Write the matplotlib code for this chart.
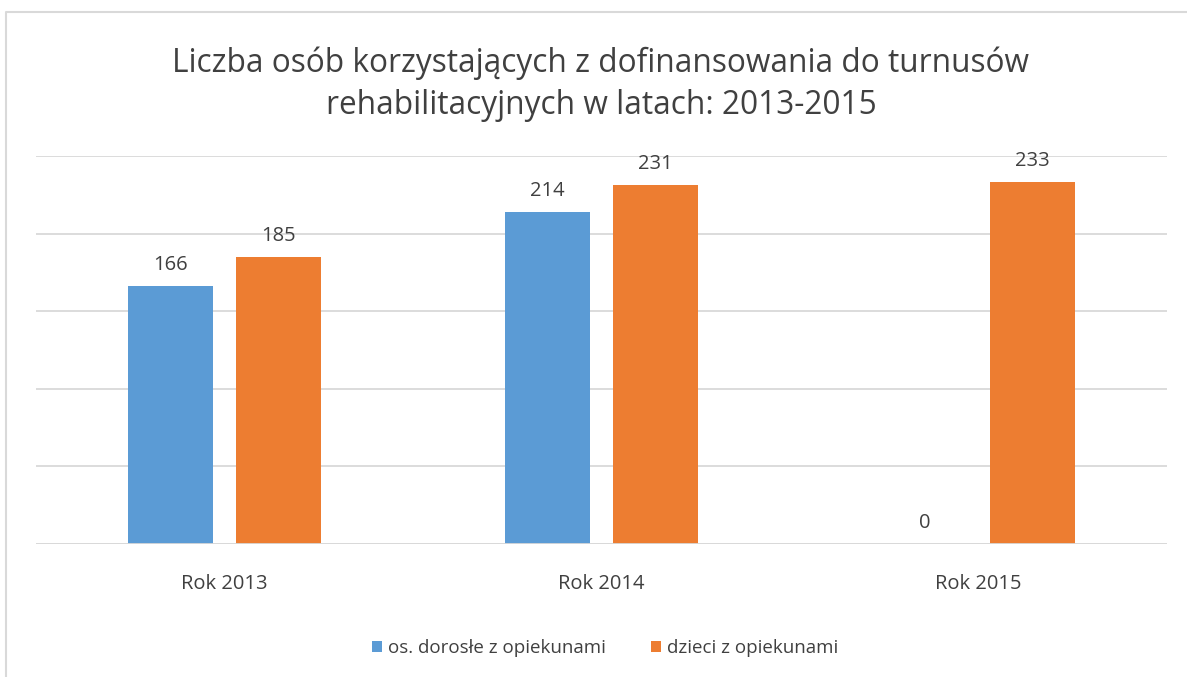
import matplotlib.pyplot as plt
import numpy as np

plt.rcParams['font.family'] = ['Open Sans', 'DejaVu Sans']

# dane z wykresu
lata = ["Rok 2013", "Rok 2014", "Rok 2015"]
dorosli = [166, 214, 0]
dzieci = [185, 231, 233]
serie = ["os. dorosłe z opiekunami", "dzieci z opiekunami"]
tytul = "Liczba osób korzystających z dofinansowania do turnusów\nrehabilitacyjnych w latach: 2013-2015"

kolor_nieb = "#5B9BD5"
kolor_pom = "#ED7D31"
kolor_tekst = "#404040"

W, H = 1187, 677
fig = plt.figure(figsize=(W / 100, H / 100), dpi=100)

# ramka wykresu (obcięta z prawej i z dołu)
ramka = fig.add_axes([0, 0, 1, 1])
ramka.set_xlim(0, W)
ramka.set_ylim(H, 0)
ramka.axis("off")
ramka.plot([6, 6, W + 5], [H + 5, 12, 12], color="#D9D9D9", lw=1.5)

# obszar wykresu: x 36..1167, y 156..544
ax = fig.add_axes([36 / W, 1 - 544 / H, (1167 - 36) / W, (544 - 156) / H])
x = np.arange(len(lata))
szer = 0.2255
przes = 0.143
b1 = ax.bar(x - przes, dorosli, szer, color=kolor_nieb, label=serie[0])
b2 = ax.bar(x + przes, dzieci, szer, color=kolor_pom, label=serie[1])

ax.set_xlim(-0.5, 2.5)
ax.set_ylim(0, 250)
ax.set_yticks(np.arange(0, 251, 50))
ax.yaxis.grid(True, color="#D9D9D9", lw=1.3)
ax.set_axisbelow(True)
ax.tick_params(axis="y", left=False, labelleft=False)
ax.tick_params(axis="x", bottom=False, labelsize=14.5, labelcolor=kolor_tekst, pad=18)
ax.set_xticks(x)
ax.set_xticklabels(lata)
for s in ax.spines.values():
    s.set_visible(False)
ax.axhline(0, color="#D9D9D9", lw=1.3)

for bars in (b1, b2):
    ax.bar_label(bars, padding=8, fontsize=14.5, color=kolor_tekst)

fig.text(601 / W, 1 - 84 / H, tytul, ha="center", va="center", fontsize=22.8,
         color=kolor_tekst, linespacing=1.38)

fig.legend(loc="center", bbox_to_anchor=(605 / W, 1 - 648 / H), ncol=2, frameon=False,
           fontsize=13.5, labelcolor=kolor_tekst, handlelength=0.55, handleheight=0.55,
           handletextpad=0.3, columnspacing=2.4)

fig.savefig("out.png", dpi=100)
